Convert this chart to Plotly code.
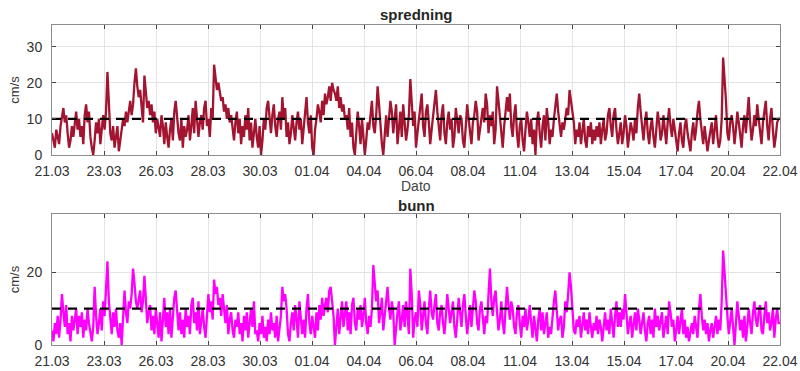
import numpy as np
import plotly.graph_objects as go
from plotly.subplots import make_subplots

# 1.5-hourly samples starting 21.03 00:00 (16 per day), 32 days
spredning = [
    6, 4, 2, 7, 5, 3, 8, 10, 13, 9, 11, 6, 2, 4, 8, 5,
    9, 12, 7, 10, 5, 8, 3, 11, 14, 9, 12, 5, 2, 0, 4, 9,
    6, 10, 3, 8, 11, 7, 12, 23, 15, 6, 4, 8, 2, 5, 8, 1,
    4, 7, 10, 8, 12, 9, 13, 15, 11, 14, 20, 24, 19, 16, 18, 12,
    9, 22, 17, 13, 15, 11, 14, 9, 12, 6, 10, 7, 5, 11, 8, 3,
    9, 5, 2, 7, 10, 4, 12, 15, 9, 6, 4, 10, 2, 8, 5, 7,
    11, 4, 8, 13, 6, 15, 10, 5, 9, 11, 7, 13, 15, 8, 10, 5,
    13, 10, 25, 21, 18, 20, 17, 15, 16, 12, 14, 10, 13, 9, 11, 7,
    4, 9, 12, 6, 10, 3, 8, 5, 11, 7, 13, 4, 9, 2, 6, 10,
    5, 2, 8, 0, 4, 10, 7, 13, 15, 9, 6, 11, 14, 8, 5, 10,
    12, 7, 16, 10, 13, 5, 9, 3, 6, 11, 8, 4, 9, 12, 7, 10,
    3, 8, 13, 16, 9, 6, 11, 2, 0, 7, 10, 14, 12, 9, 15, 11,
    17, 14, 16, 19, 15, 20, 18, 17, 15, 19, 13, 16, 12, 14, 10, 11,
    7, 13, 5, 9, 2, 0, 6, 12, 8, 3, 10, 5, 0, 4, 9, 7,
    12, 15, 8, 6, 11, 19, 14, 8, 3, 0, 7, 11, 5, 9, 15, 12,
    6, 10, 14, 3, 8, 12, 5, 14, 9, 4, 7, 11, 21, 15, 8, 12,
    2, 6, 10, 13, 17, 8, 5, 12, 14, 9, 3, 7, 11, 15, 18, 12,
    8, 4, 11, 14, 6, 3, 9, 12, 7, 10, 2, 5, 13, 9, 6, 11,
    10, 4, 2, 8, 14, 10, 6, 3, 9, 11, 15, 12, 4, 7, 10, 13,
    9, 17, 14, 6, 11, 8, 12, 3, 7, 19, 15, 10, 5, 2, 8, 13,
    16, 12, 17, 8, 5, 11, 14, 6, 2, 8, 10, 4, 1, 7, 12, 9,
    5, 10, 3, 7, 0, 9, 12, 6, 2, 8, 11, 4, 13, 9, 3, 7,
    5, 10, 14, 17, 12, 8, 5, 9, 7, 10, 13, 11, 18, 15, 12, 9,
    3, 7, 5, 9, 3, 6, 10, 4, 2, 8, 5, 9, 3, 7, 4, 8,
    5, 9, 3, 7, 10, 4, 6, 11, 13, 8, 5, 11, 13, 7, 3, 6,
    9, 3, 6, 11, 8, 2, 5, 9, 7, 4, 10, 6, 13, 17, 12, 8,
    4, 9, 12, 6, 3, 8, 10, 5, 2, 7, 12, 9, 4, 6, 11, 7,
    3, 9, 13, 8, 5, 10, 7, 3, 1, 6, 9, 4, 2, 8, 10, 6,
    3, 1, 6, 9, 4, 7, 12, 15, 10, 6, 3, 8, 5, 1, 4, 7,
    9, 3, 7, 11, 5, 2, 4, 10, 27, 22, 15, 6, 4, 9, 11, 8,
    3, 7, 12, 9, 5, 2, 8, 11, 6, 12, 16, 9, 4, 7, 11, 8,
    14, 10, 6, 3, 9, 12, 15, 8, 4, 10, 13, 7, 2, 5, 9, 10,
    10,
]

bunn = [
    4, 1, 6, 3, 8, 2, 7, 14, 9, 5, 11, 3, 6, 1, 8, 4,
    7, 10, 3, 8, 5, 9, 2, 7, 4, 10, 6, 3, 1, 5, 16, 8,
    3, 6, 10, 4, 12, 8, 15, 23, 12, 7, 3, 9, 5, 10, 4, 2,
    6, 0, 8, 15, 9, 6, 12, 10, 14, 21, 17, 12, 10, 13, 15, 9,
    12, 19, 13, 6, 9, 11, 4, 8, 3, 10, 6, 2, 9, 1, 7, 13,
    5, 9, 3, 10, 2, 7, 13, 15, 8, 4, 9, 3, 7, 2, 10, 5,
    8, 3, 11, 13, 6, 9, 4, 12, 3, 7, 10, 5, 2, 8, 14, 9,
    12, 7, 18, 14, 16, 11, 13, 8, 14, 10, 6, 11, 3, 7, 9, 4,
    2, 7, 5, 9, 3, 6, 1, 8, 4, 9, 2, 6, 10, 5, 12, 3,
    4, 1, 6, 3, 8, 2, 5, 1, 7, 3, 9, 4, 6, 2, 8, 1,
    5, 8, 16, 12, 14, 10, 3, 1, 6, 9, 4, 11, 7, 2, 12, 8,
    3, 7, 2, 10, 14, 6, 3, 8, 5, 2, 9, 4, 11, 7, 13, 8,
    11, 13, 9, 15, 16, 12, 8, 0, 5, 10, 3, 7, 12, 5, 9, 12,
    4, 9, 3, 11, 13, 6, 4, 10, 7, 11, 5, 8, 13, 6, 3, 8,
    5, 10, 22, 17, 12, 15, 6, 9, 13, 4, 8, 11, 16, 10, 7, 12,
    9, 0, 5, 9, 12, 4, 7, 11, 5, 12, 8, 3, 21, 14, 2, 7,
    9, 5, 15, 11, 4, 8, 12, 6, 3, 10, 15, 9, 7, 11, 14, 6,
    4, 9, 11, 6, 3, 8, 14, 10, 6, 9, 12, 5, 2, 7, 13, 9,
    5, 11, 14, 8, 3, 7, 11, 5, 9, 15, 12, 6, 4, 10, 12, 7,
    3, 8, 6, 14, 21, 12, 8, 13, 15, 9, 4, 7, 12, 6, 3, 10,
    16, 11, 7, 12, 10, 5, 3, 9, 11, 6, 2, 8, 5, 10, 4, 7,
    11, 6, 2, 8, 5, 1, 7, 10, 4, 9, 3, 6, 9, 2, 5, 3,
    8, 12, 15, 9, 4, 7, 8, 2, 5, 12, 9, 14, 20, 16, 9, 4,
    3, 7, 5, 8, 2, 6, 9, 4, 7, 3, 9, 5, 2, 6, 4, 8,
    3, 7, 5, 1, 6, 9, 4, 7, 3, 10, 6, 2, 8, 12, 5, 9,
    5, 10, 7, 14, 9, 3, 6, 8, 2, 5, 9, 4, 10, 7, 3, 6,
    9, 4, 1, 6, 8, 3, 7, 2, 10, 5, 8, 4, 6, 9, 2, 5,
    8, 3, 12, 9, 5, 7, 1, 4, 8, 3, 6, 10, 3, 7, 2, 5,
    1, 4, 6, 3, 8, 5, 2, 10, 14, 8, 4, 7, 3, 6, 1, 4,
    6, 2, 5, 8, 3, 7, 4, 12, 26, 19, 15, 8, 3, 6, 10, 5,
    0, 6, 12, 8, 4, 7, 2, 8, 1, 5, 10, 6, 3, 9, 12, 7,
    5, 9, 11, 4, 3, 8, 12, 6, 9, 4, 6, 10, 2, 7, 10, 6,
    6,
]

tick_labels = ["21.03", "23.03", "26.03", "28.03", "30.03", "01.04", "04.04",
               "06.04", "08.04", "11.04", "13.04", "15.04", "17.04", "20.04", "22.04"]
threshold = 10
n_days = 32
samples_per_day = 16

days = np.arange(len(spredning)) / samples_per_day
tickvals = np.linspace(0, n_days, len(tick_labels))

FONT = "Liberation Sans, Arial, sans-serif"

fig = make_subplots(rows=2, cols=1, vertical_spacing=0.0)

fig.add_trace(go.Scatter(x=days, y=spredning, mode="lines",
                         line=dict(color="#A2142F", width=2.3), showlegend=False), row=1, col=1)
fig.add_trace(go.Scatter(x=[0, n_days], y=[threshold, threshold], mode="lines",
                         line=dict(color="black", width=2.2, dash="9px,7px"), showlegend=False), row=1, col=1)
fig.add_trace(go.Scatter(x=days, y=bunn, mode="lines",
                         line=dict(color="#FF00FF", width=2.3), showlegend=False), row=2, col=1)
fig.add_trace(go.Scatter(x=[0, n_days], y=[threshold, threshold], mode="lines",
                         line=dict(color="black", width=2.2, dash="9px,7px"), showlegend=False), row=2, col=1)

axis_common = dict(showline=True, linecolor="#8c8c8c", linewidth=1, mirror="ticks",
                   ticks="inside", ticklen=4, tickcolor="#444444", automargin=False,
                   showgrid=True, gridcolor="#e3e3e3", gridwidth=1, zeroline=False,
                   tickfont=dict(family=FONT, size=14, color="#333333"))

fig.update_xaxes(range=[0, n_days], tickvals=tickvals, ticktext=tick_labels,
                 ticklabelstandoff=3, **axis_common)
fig.update_yaxes(range=[0, 36], ticklabelstandoff=6, **axis_common)
fig.update_yaxes(tickvals=[0, 10, 20, 30], row=1, col=1)
fig.update_yaxes(tickvals=[0, 20], row=2, col=1)
fig.update_yaxes(title=dict(text="cm/s", standoff=4,
                            font=dict(family=FONT, size=13, color="#333333")))

fig.update_layout(
    width=800, height=371,
    margin=dict(l=52, r=20, t=25, b=26),
    plot_bgcolor="white", paper_bgcolor="white",
    xaxis=dict(domain=[0, 1]),
    yaxis=dict(domain=[0.594, 1.0]),
    yaxis2=dict(domain=[0.0, 0.409]),
)

ann_font = dict(family=FONT, size=15, color="#262626")
fig.add_annotation(text="<b>spredning</b>", xref="paper", yref="paper", x=0.5, y=1.033,
                   showarrow=False, yanchor="middle", font=ann_font)
fig.add_annotation(text="<b>bunn</b>", xref="paper", yref="paper", x=0.5, y=0.435,
                   showarrow=False, yanchor="middle", font=ann_font)
fig.add_annotation(text="Dato", xref="paper", yref="paper", x=0.5, y=0.497,
                   showarrow=False, yanchor="middle",
                   font=dict(family=FONT, size=14, color="#444444"))
fig.add_annotation(text="Dato", xref="paper", yref="paper", x=0.5, y=-0.097,
                   showarrow=False, yanchor="middle",
                   font=dict(family=FONT, size=14, color="#444444"))

fig.write_html("out.html", config={"displayModeBar": False},
               post_script="document.body.style.margin='0';document.body.style.overflow='hidden';")
